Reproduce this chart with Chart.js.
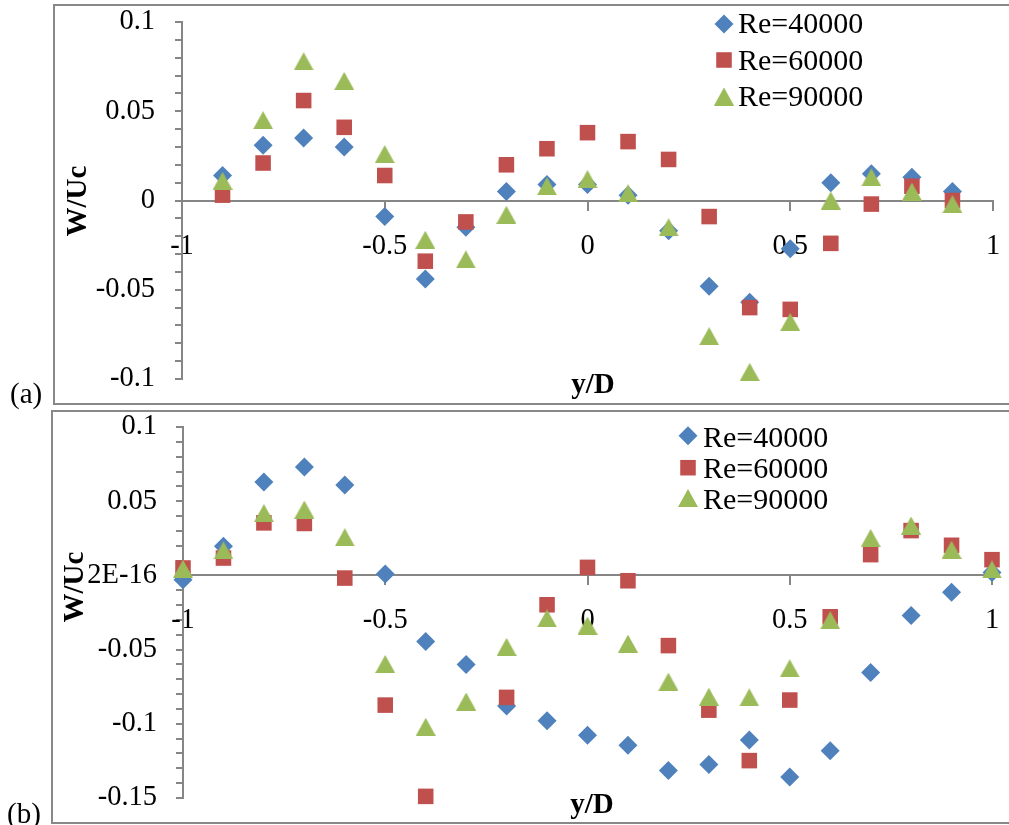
<!DOCTYPE html>
<html><head><meta charset="utf-8">
<script src="https://cdn.jsdelivr.net/npm/chart.js@4/dist/chart.umd.min.js"></script>
<style>
html,body{margin:0;padding:0;background:#fff;width:1009px;height:825px;overflow:hidden;position:relative}
.box{position:absolute;border:2px solid #888;border-right:none;box-sizing:border-box}
#boxA{left:53px;top:4px;width:1000px;height:401px}
#boxB{left:51px;top:410px;width:1000px;height:414px}
canvas{position:absolute;left:0}
#cA{top:0}
#cB{top:405px}
</style></head><body>
<div class="box" id="boxA"></div><div class="box" id="boxB"></div>
<canvas id="cA" width="1009" height="410"></canvas>
<canvas id="cB" width="1009" height="420"></canvas>
<script>
// ---------- data ----------
const seriesNames = ['Re=40000', 'Re=60000', 'Re=90000'];

const xA = [-0.9,-0.8,-0.7,-0.6,-0.5,-0.4,-0.3,-0.2,-0.1,0,0.1,0.2,0.3,0.4,0.5,0.6,0.7,0.8,0.9];
const re40A = [0.014,0.031,0.035,0.030,-0.009,-0.044,-0.015,0.005,0.009,0.009,0.003,-0.017,-0.048,-0.057,-0.027,0.010,0.015,0.013,0.005];
const re60A = [0.003,0.021,0.056,0.041,0.014,-0.034,-0.012,0.020,0.029,0.038,0.033,0.023,-0.009,-0.060,-0.061,-0.024,-0.002,0.008,0.000];
const re90A = [0.011,0.045,0.078,0.067,0.026,-0.022,-0.033,-0.008,0.008,0.012,0.004,-0.015,-0.076,-0.096,-0.068,0.000,0.013,0.005,-0.002];

const xB = [-1,-0.9,-0.8,-0.7,-0.6,-0.5,-0.4,-0.3,-0.2,-0.1,0,0.1,0.2,0.3,0.4,0.5,0.6,0.7,0.8,0.9,1];
const re40B = [-0.003,0.0196,0.063,0.073,0.061,0.001,-0.0446,-0.060,-0.088,-0.098,-0.1077,-0.1144,-0.1315,-0.1275,-0.111,-0.1358,-0.1182,-0.0655,-0.027,-0.0113,0.002];
const re60B = [0.005,0.0117,0.0354,0.035,-0.0018,-0.0874,-0.1489,null,-0.0822,-0.0198,0.0054,-0.0036,-0.0473,-0.0908,-0.1248,-0.084,-0.0279,0.014,0.0302,0.0203,0.0106];
const re90B = [0.0045,0.0169,0.042,0.0444,0.0257,-0.0597,-0.102,-0.085,-0.0482,-0.029,-0.0338,-0.046,-0.0716,-0.0818,-0.0822,-0.0626,-0.0302,0.0252,0.0336,0.0173,0.004];

const xTickVals = [-1,-0.5,0,0.5,1];
const xTickLabels = ['-1','-0.5','0','0.5','1'];
const yTickValsA = [0.1,0.05,0,-0.05,-0.1];
const yTickLabelsA = ['0.1','0.05','0','-0.05','-0.1'];
const yTickValsB = [0.1,0.05,0,-0.05,-0.1,-0.15];
const yTickLabelsB = ['0.1','0.05','2E-16','-0.05','-0.1','-0.15'];

const xTitle = 'y/D';
const yTitle = 'W/Uc';
const panelLabels = ['(a)', '(b)'];

// ---------- styling ----------
const FONT = '"Liberation Serif", "Times New Roman", serif';
const COLORS = ['#4F81BD', '#C0504D', '#9BBB59'];
const AXIS = '#868686';

function makeTriangle(color, w, h) {
  const c = document.createElement('canvas');
  c.width = w; c.height = h;
  const g = c.getContext('2d');
  g.fillStyle = color;
  g.beginPath(); g.moveTo(w / 2, 0); g.lineTo(w, h); g.lineTo(0, h); g.closePath(); g.fill();
  return c;
}
const triImg = makeTriangle(COLORS[2], 20, 18);

function pts(xs, ys) { return xs.map((x, i) => ({x: x, y: ys[i]})); }
function labelFor(vals, labels) {
  return function (v) {
    const i = vals.findIndex(t => Math.abs(t - v) < 1e-7);
    return i >= 0 ? labels[i] : '';
  };
}
function noPad(s) { s.paddingTop = 0; s.paddingBottom = 0; s.paddingLeft = 0; s.paddingRight = 0; }

function drawMarker(ctx, ds, x, y) {
  ctx.fillStyle = ds.backgroundColor;
  if (Chart.helpers && Chart.helpers.drawPoint) {
    Chart.helpers.drawPoint(ctx, {pointStyle: ds.pointStyle, radius: ds.pointRadius, rotation: 0, borderWidth: 0}, x, y);
    return;
  }
  const r = ds.pointRadius;
  ctx.beginPath();
  if (ds.pointStyle === 'rectRot') { ctx.moveTo(x - r, y); ctx.lineTo(x, y - r); ctx.lineTo(x + r, y); ctx.lineTo(x, y + r); ctx.closePath(); ctx.fill(); }
  else if (ds.pointStyle === 'rect') { const s = r * Math.SQRT1_2; ctx.fillRect(x - s, y - s, 2 * s, 2 * s); }
  else { ctx.drawImage(ds.pointStyle, x - ds.pointStyle.width / 2, y - ds.pointStyle.height / 2); }
}

const decorPlugin = {
  id: 'excelDecor',
  afterDatasetsDraw(chart, args, o) {
    const ctx = chart.ctx;
    ctx.save();
    ctx.fillStyle = '#000';
    ctx.textBaseline = 'alphabetic';
    ctx.font = 'bold 29px ' + FONT;
    ctx.textAlign = 'center';
    ctx.fillText(xTitle, o.xTitleX, o.xTitleY);
    ctx.save();
    ctx.translate(o.yTitleX, o.yTitleY);
    ctx.rotate(-Math.PI / 2);
    ctx.fillText(yTitle, 0, 0);
    ctx.restore();
    ctx.font = '29px ' + FONT;
    ctx.textAlign = 'left';
    ctx.fillText(o.panel, o.panelX, o.panelY);
    ctx.font = '30px ' + FONT;
    chart.data.datasets.forEach((ds, i) => {
      drawMarker(ctx, ds, o.legX, o.legMarkY[i]);
      ctx.fillStyle = '#000';
      ctx.fillText(ds.label, o.legTextX, o.legBaseY[i]);
    });
    ctx.restore();
  }
};

function makeChart(id, c) {
  const tickFont = {family: FONT, size: 28.5};
  return new Chart(document.getElementById(id), {
    type: 'scatter',
    data: {
      datasets: [
        {label: seriesNames[0], data: pts(c.x, c.s[0]), pointStyle: 'rectRot', pointRadius: 9.5, backgroundColor: COLORS[0], borderWidth: 0, pointBorderWidth: 0, order: 2, clip: false},
        {label: seriesNames[1], data: pts(c.x, c.s[1]), pointStyle: 'rect', pointRadius: 11, backgroundColor: COLORS[1], borderWidth: 0, pointBorderWidth: 0, order: 1, clip: false},
        {label: seriesNames[2], data: pts(c.x, c.s[2]), pointStyle: triImg, pointRadius: 10, backgroundColor: COLORS[2], borderWidth: 0, pointBorderWidth: 0, order: 0, clip: false}
      ]
    },
    options: {
      responsive: false, animation: false, devicePixelRatio: 1, events: [],
      layout: {padding: {left: 0, right: c.padR, top: c.padT, bottom: c.padB}},
      plugins: {legend: {display: false}, tooltip: {enabled: false}, excelDecor: c.decor},
      scales: {
        x: {
          type: 'linear', min: -1, max: 1, position: {y: 0},
          afterFit(s) { s.height = 0; noPad(s); },
          ticks: {stepSize: 0.5, autoSkip: false, maxRotation: 0, minRotation: 0, padding: c.xPad, font: tickFont, color: '#000', callback: labelFor(xTickVals, xTickLabels)},
          grid: {drawOnChartArea: false, drawTicks: true, tickLength: 9, color: AXIS, lineWidth: 2},
          border: {display: true, color: AXIS, width: 2}
        },
        y: {
          type: 'linear', min: c.ymin, max: c.ymax,
          afterFit(s) { s.width = c.axisX; noPad(s); },
          ticks: {stepSize: 0.01, autoSkip: false, padding: c.yPad, font: tickFont, color: '#000', callback: labelFor(c.yVals, c.yLabels)},
          grid: {drawOnChartArea: false, drawTicks: true, tickLength: 7, color: AXIS, lineWidth: 2},
          border: {display: true, color: AXIS, width: 2}
        }
      }
    },
    plugins: [decorPlugin]
  });
}

makeChart('cA', {
  x: xA, s: [re40A, re60A, re90A], ymin: -0.1, ymax: 0.1,
  yVals: yTickValsA, yLabels: yTickLabelsA,
  axisX: 182, padR: 16, padT: 22, padB: 31, xPad: 20, yPad: 20,
  decor: {xTitleX: 593, xTitleY: 393, yTitleX: 86, yTitleY: 201, panel: panelLabels[0], panelX: 10, panelY: 403,
          legX: 724, legTextX: 738, legMarkY: [24, 60, 96.5], legBaseY: [33.3, 69.5, 106]}
});
makeChart('cB', {
  x: xB, s: [re40B, re60B, re90B], ymin: -0.15, ymax: 0.1,
  yVals: yTickValsB, yLabels: yTickLabelsB,
  axisX: 183, padR: 17, padT: 22, padB: 27, xPad: 19, yPad: 19,
  decor: {xTitleX: 592, xTitleY: 408, yTitleX: 83, yTitleY: 182, panel: panelLabels[1], panelX: 7, panelY: 418,
          legX: 688, legTextX: 703, legMarkY: [30.7, 62.7, 93], legBaseY: [41.7, 72.7, 104]}
});
</script></body></html>
